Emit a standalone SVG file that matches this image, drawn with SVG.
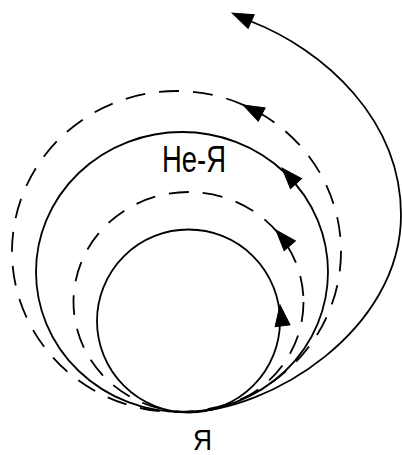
<svg xmlns="http://www.w3.org/2000/svg" width="402" height="455" viewBox="0 0 402 455">
  <style>
    .ln { fill: none; stroke: #000; stroke-width: 1.8; }
    .dash { stroke-dasharray: 20 14; }
    .lbl { font-family: "Liberation Sans", "DejaVu Sans", sans-serif; fill: #000; }
    .ah { fill: #000; stroke: #000; stroke-width: 1; stroke-linejoin: miter; }
  </style>
  <defs>
    <path id="arrowhead" class="ah" d="M0,0 L-21,-7.5 L-21,7.5 Z"/>
  </defs>
  <rect width="402" height="455" fill="#fff"/>
  <g id="connectors">
    <circle id="c1" class="ln" cx="188.5" cy="321" r="91.5"/>
    <ellipse id="c2" class="ln dash" cx="188.5" cy="302" rx="115" ry="110"/>
    <ellipse id="c3" class="ln" cx="182" cy="272" rx="146" ry="140"/>
    <ellipse id="c4" class="ln dash" cx="176.5" cy="251.5" rx="164.5" ry="160.5"/>
    <path id="c5" class="ln" d="M185,412 C270,412 401,330 401,215 C401,120 325,50 250,21"/>
    <use href="#arrowhead" transform="translate(232,13) rotate(204)"/>
    <use href="#arrowhead" transform="translate(243,105) rotate(207)"/>
    <use href="#arrowhead" transform="translate(282,168) rotate(228)"/>
    <use href="#arrowhead" transform="translate(276,230) rotate(229)"/>
    <use href="#arrowhead" transform="translate(280,305) rotate(263)"/>
  </g>
  <g id="ne-ya">
    <text class="lbl" x="162" y="172" font-size="37" textLength="64" lengthAdjust="spacingAndGlyphs">Не-Я</text>
  </g>
  <g id="ya">
    <text class="lbl" x="193" y="450" font-size="30" textLength="19" lengthAdjust="spacingAndGlyphs">Я</text>
  </g>
</svg>
